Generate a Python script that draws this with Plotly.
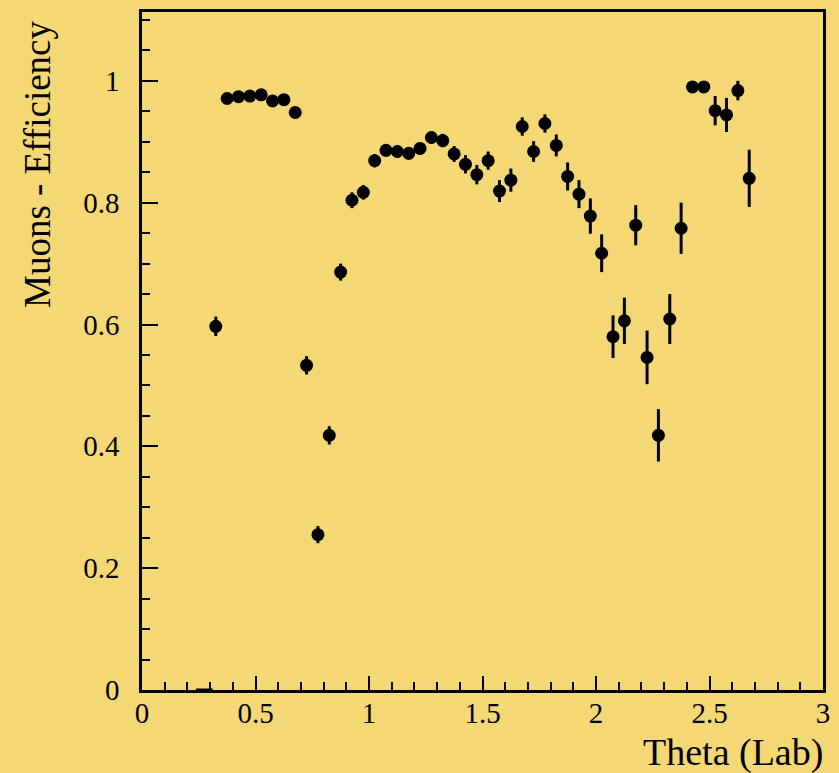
import plotly.graph_objects as go

# Bin centres (Theta, Lab) and muon efficiency with uncertainty
theta = [0.325, 0.375, 0.425, 0.475, 0.525, 0.575, 0.625, 0.675, 0.725, 0.775,
         0.825, 0.875, 0.925, 0.975, 1.025, 1.075, 1.125, 1.175, 1.225, 1.275,
         1.325, 1.375, 1.425, 1.475, 1.525, 1.575, 1.625, 1.675, 1.725, 1.775,
         1.825, 1.875, 1.925, 1.975, 2.025, 2.075, 2.125, 2.175, 2.225, 2.275,
         2.325, 2.375, 2.425, 2.475, 2.525, 2.575, 2.625, 2.675]
efficiency = [0.597, 0.971, 0.974, 0.975, 0.977, 0.967, 0.969, 0.948, 0.533, 0.255,
              0.418, 0.686, 0.804, 0.817, 0.869, 0.886, 0.884, 0.881, 0.889, 0.907,
              0.902, 0.880, 0.863, 0.846, 0.869, 0.819, 0.837, 0.925, 0.884, 0.930,
              0.894, 0.843, 0.814, 0.778, 0.717, 0.580, 0.606, 0.763, 0.546, 0.418,
              0.609, 0.758, 0.990, 0.990, 0.951, 0.944, 0.984, 0.840]
eff_error = [0.016, 0.006, 0.006, 0.006, 0.006, 0.007, 0.007, 0.008, 0.015, 0.014,
             0.015, 0.014, 0.013, 0.012, 0.011, 0.010, 0.010, 0.010, 0.010, 0.010,
             0.011, 0.013, 0.015, 0.016, 0.015, 0.018, 0.019, 0.015, 0.017, 0.015,
             0.018, 0.023, 0.023, 0.029, 0.031, 0.035, 0.038, 0.033, 0.044, 0.043,
             0.041, 0.042, 0.005, 0.005, 0.024, 0.028, 0.016, 0.047]

# Empty bin drawn at zero
empty_theta = [0.275]
empty_eff = [0.0]

x_ticks = [0, 0.5, 1, 1.5, 2, 2.5, 3]
x_tick_labels = ["0", "0.5", "1", "1.5", "2", "2.5", "3"]
y_ticks = [0, 0.2, 0.4, 0.6, 0.8, 1]
y_tick_labels = ["0", "0.2", "0.4", "0.6", "0.8", "1"]

bg = "#F4D876"
font_family = "Liberation Serif, Times New Roman, serif"

fig = go.Figure()
fig.add_trace(go.Scatter(
    x=empty_theta, y=empty_eff, mode="markers",
    marker=dict(symbol="line-ew", size=12, line=dict(color="black", width=3)),
    cliponaxis=False, showlegend=False, hoverinfo="skip"))
fig.add_trace(go.Scatter(
    x=theta, y=efficiency, mode="markers",
    marker=dict(symbol="circle", size=13, color="black"),
    error_y=dict(type="data", array=eff_error, visible=True,
                 color="black", thickness=3, width=0),
    showlegend=False))

fig.update_layout(
    width=839, height=773,
    paper_bgcolor=bg, plot_bgcolor=bg,
    margin=dict(l=142, r=16, t=9, b=83),
    font=dict(family=font_family, size=29, color="black"),
    xaxis=dict(range=[0, 3], tickvals=x_ticks, ticktext=x_tick_labels,
               ticks="inside", ticklen=14, tickwidth=2, tickcolor="black",
               showline=True, linecolor="black", linewidth=2.5, mirror=True,
               showgrid=False, zeroline=False, ticklabelstandoff=-5,
               minor=dict(dtick=0.1, ticks="inside", ticklen=8, tickwidth=2,
                          tickcolor="black", showgrid=False)),
    yaxis=dict(range=[0, 1.113], tickvals=y_ticks, ticktext=y_tick_labels,
               ticks="inside", ticklen=16, tickwidth=2, tickcolor="black",
               showline=True, linecolor="black", linewidth=2.5, mirror=True,
               showgrid=False, zeroline=False, ticklabelstandoff=14,
               minor=dict(dtick=0.05, ticks="inside", ticklen=8, tickwidth=2,
                          tickcolor="black", showgrid=False)),
    annotations=[
        dict(text="Muons - Efficiency", textangle=-90, xref="paper", yref="paper",
             x=0, y=1, xanchor="center", yanchor="top", xshift=-105, yshift=-6,
             showarrow=False, font=dict(size=37, family=font_family)),
        dict(text="Theta (Lab)", xref="paper", yref="paper",
             x=1, y=0, xanchor="right", yanchor="middle", xshift=2, yshift=-62,
             showarrow=False, font=dict(size=38, family=font_family)),
    ],
)

fig.write_html("out.html", config={"displayModeBar": False},
               post_script="document.body.style.margin='0';document.body.style.background='%s';" % bg)
